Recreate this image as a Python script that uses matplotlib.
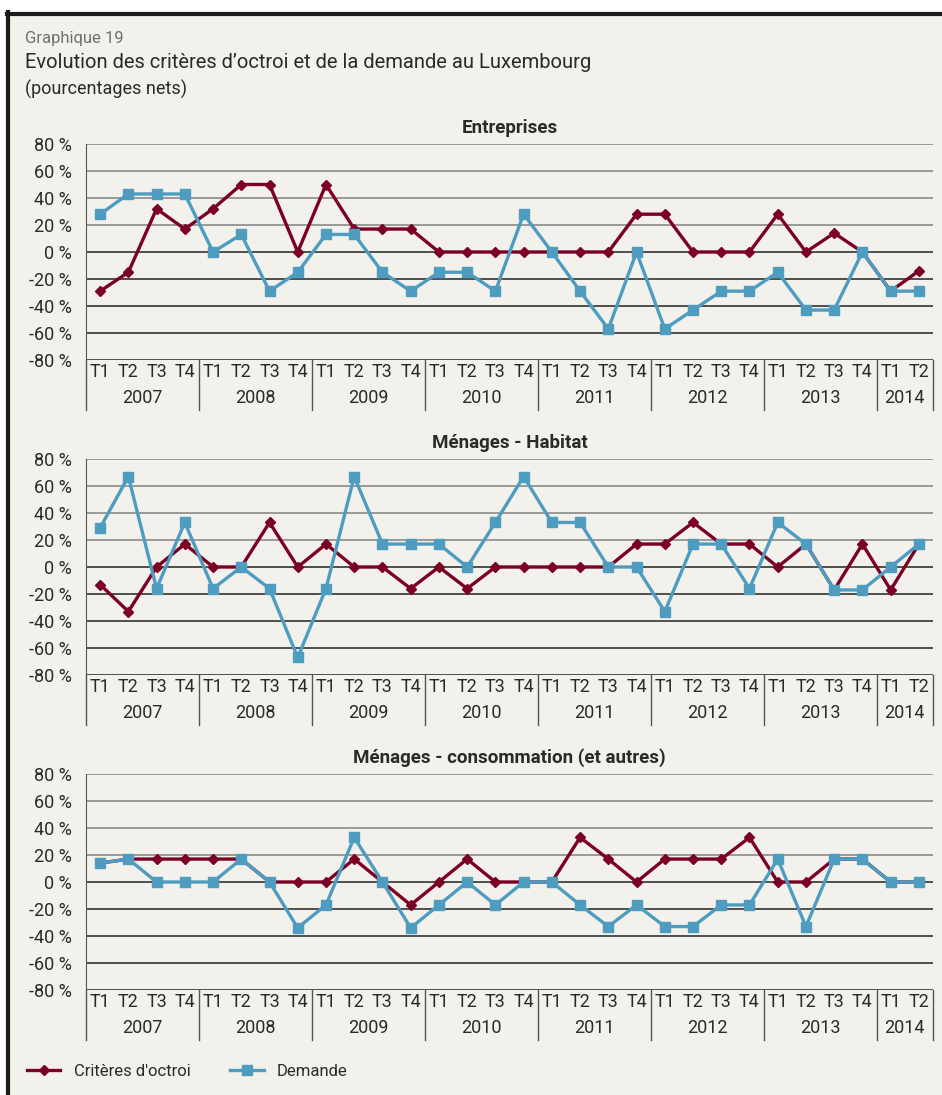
import matplotlib
matplotlib.use("Agg")
import matplotlib.pyplot as plt
import matplotlib.transforms as mtransforms
from matplotlib.patches import Rectangle
from matplotlib.lines import Line2D

plt.rcParams['font.family'] = ['Roboto', 'DejaVu Sans']

years = ['2007', '2008', '2009', '2010', '2011', '2012', '2013', '2014']
quarters = ['T1', 'T2', 'T3', 'T4']

# Entreprises
ent_crit = [-29, -15, 32, 17, 32, 50, 50, 0, 50, 17, 17, 17, 0, 0, 0, 0,
            0, 0, 0, 28, 28, 0, 0, 0, 28, 0, 14, 0, -29, -14]
ent_dem = [28, 43, 43, 43, 0, 13, -29, -15, 13, 13, -15, -29, -15, -15, -29, 28,
           0, -29, -57, 0, -57, -43, -29, -29, -15, -43, -43, 0, -29, -29]
# Ménages - Habitat
hab_crit = [-13, -33, 0, 17, 0, 0, 33, 0, 17, 0, 0, -16, 0, -16, 0, 0,
            0, 0, 0, 17, 17, 33, 17, 17, 0, 17, -17, 17, -17, 17]
hab_dem = [29, 67, -16, 33, -16, 0, -16, -67, -16, 67, 17, 17, 17, 0, 33, 67,
           33, 33, 0, 0, -33, 17, 17, -16, 33, 17, -17, -17, 0, 17]
# Ménages - consommation
con_crit = [14, 17, 17, 17, 17, 17, 0, 0, 0, 17, 0, -17, 0, 17, 0, 0,
            0, 33, 17, 0, 17, 17, 17, 33, 0, 0, 17, 17, 0, 0]
con_dem = [14, 17, 0, 0, 0, 17, 0, -34, -17, 33, 0, -34, -17, 0, -17, 0,
           0, -17, -33, -17, -33, -33, -17, -17, 17, -33, 17, 17, 0, 0]

panels = [('Entreprises', ent_crit, ent_dem, 144),
          ('Ménages - Habitat', hab_crit, hab_dem, 459),
          ('Ménages - consommation (et autres)', con_crit, con_dem, 774)]

RED = '#7c0025'
BLUE = '#4f9cc1'
BG = '#f2f1eb'
TXT = '#2a2a2a'
W, H = 942, 1095

fig = plt.figure(figsize=(W / 100, H / 100), dpi=100, facecolor='white')
fig.patches.append(Rectangle((8 / W, 0), 1, 1 - 14 / H, transform=fig.transFigure,
                             facecolor=BG, edgecolor='none', zorder=-5))
fig.lines.append(Line2D([8 / W, 8 / W], [0, 1 - 12 / H], transform=fig.transFigure,
                        color='#1a1a1a', lw=3))
fig.lines.append(Line2D([6.5 / W, 1], [1 - 14 / H, 1 - 14 / H], transform=fig.transFigure,
                        color='#1a1a1a', lw=3))

fig.text(25 / W, 1 - 38 / H, 'Graphique 19', fontsize=12, color='#707070', va='center')
fig.text(25 / W, 1 - 63 / H, 'Evolution des critères d\u2019octroi et de la demande au Luxembourg',
         fontsize=14.5, color=TXT, va='center')
fig.text(25 / W, 1 - 89 / H, '(pourcentages nets)', fontsize=13, color=TXT, va='center')

n = len(ent_crit)
xs = list(range(n))
left, right = 86, 933
ax_h = 216

for title, crit, dem, top in panels:
    ax = fig.add_axes([left / W, 1 - (top + ax_h) / H, (right - left) / W, ax_h / H])
    ax.set_facecolor('none')
    ax.set_xlim(-0.5, n - 0.5)
    ax.set_ylim(-80, 80)
    ax.set_yticks(range(-80, 81, 20))
    ax.set_yticklabels([f'{v} %' for v in range(-80, 81, 20)], fontsize=13, color=TXT)
    ax.tick_params(axis='y', length=0, pad=10)
    ax.set_xticks([])
    for v in range(-80, 81, 20):
        ax.axhline(v, color='#8a8a8a' if v > 0 else '#333333', lw=1.2, zorder=1)
    for s in ['top', 'right', 'bottom']:
        ax.spines[s].set_visible(False)
    ax.spines['left'].set_color('#555555')

    ax.plot(xs, crit, color=RED, lw=2.4, marker='D', ms=5.5, zorder=3)
    ax.plot(xs, dem, color=BLUE, lw=2.4, marker='s', ms=6.5, zorder=4)
    ax.set_title(title, fontsize=13.5, fontweight='bold', color=TXT, pad=8)

    trans = mtransforms.blended_transform_factory(ax.transData, ax.transAxes)
    bounds = [-0.5 + 4 * k for k in range(len(years))] + [n - 0.5]
    for b in bounds:
        ax.plot([b, b], [0, -0.23], transform=trans, color='#555555', lw=1, clip_on=False)
    for i in xs:
        ax.text(i, -0.056, quarters[i % 4], transform=trans, ha='center', va='center',
                fontsize=13, color=TXT)
    for k, yr in enumerate(years):
        start = 4 * k
        end = min(start + 3, n - 1)
        ax.text((start + end) / 2, -0.176, yr, transform=trans, ha='center', va='center',
                fontsize=13, color=TXT)

handles = [Line2D([], [], color=RED, lw=2.4, marker='D', ms=5.5),
           Line2D([], [], color=BLUE, lw=2.4, marker='s', ms=6.5)]
fig.legend(handles, ['Critères d\'octroi', 'Demande'], loc='center left',
           bbox_to_anchor=(12 / W, 1 - 1071 / H), ncol=2, frameon=False, fontsize=12,
           handlelength=2.0, columnspacing=2.4, handletextpad=0.8, labelcolor=TXT)

fig.savefig('out.png', dpi=100, facecolor='white')
